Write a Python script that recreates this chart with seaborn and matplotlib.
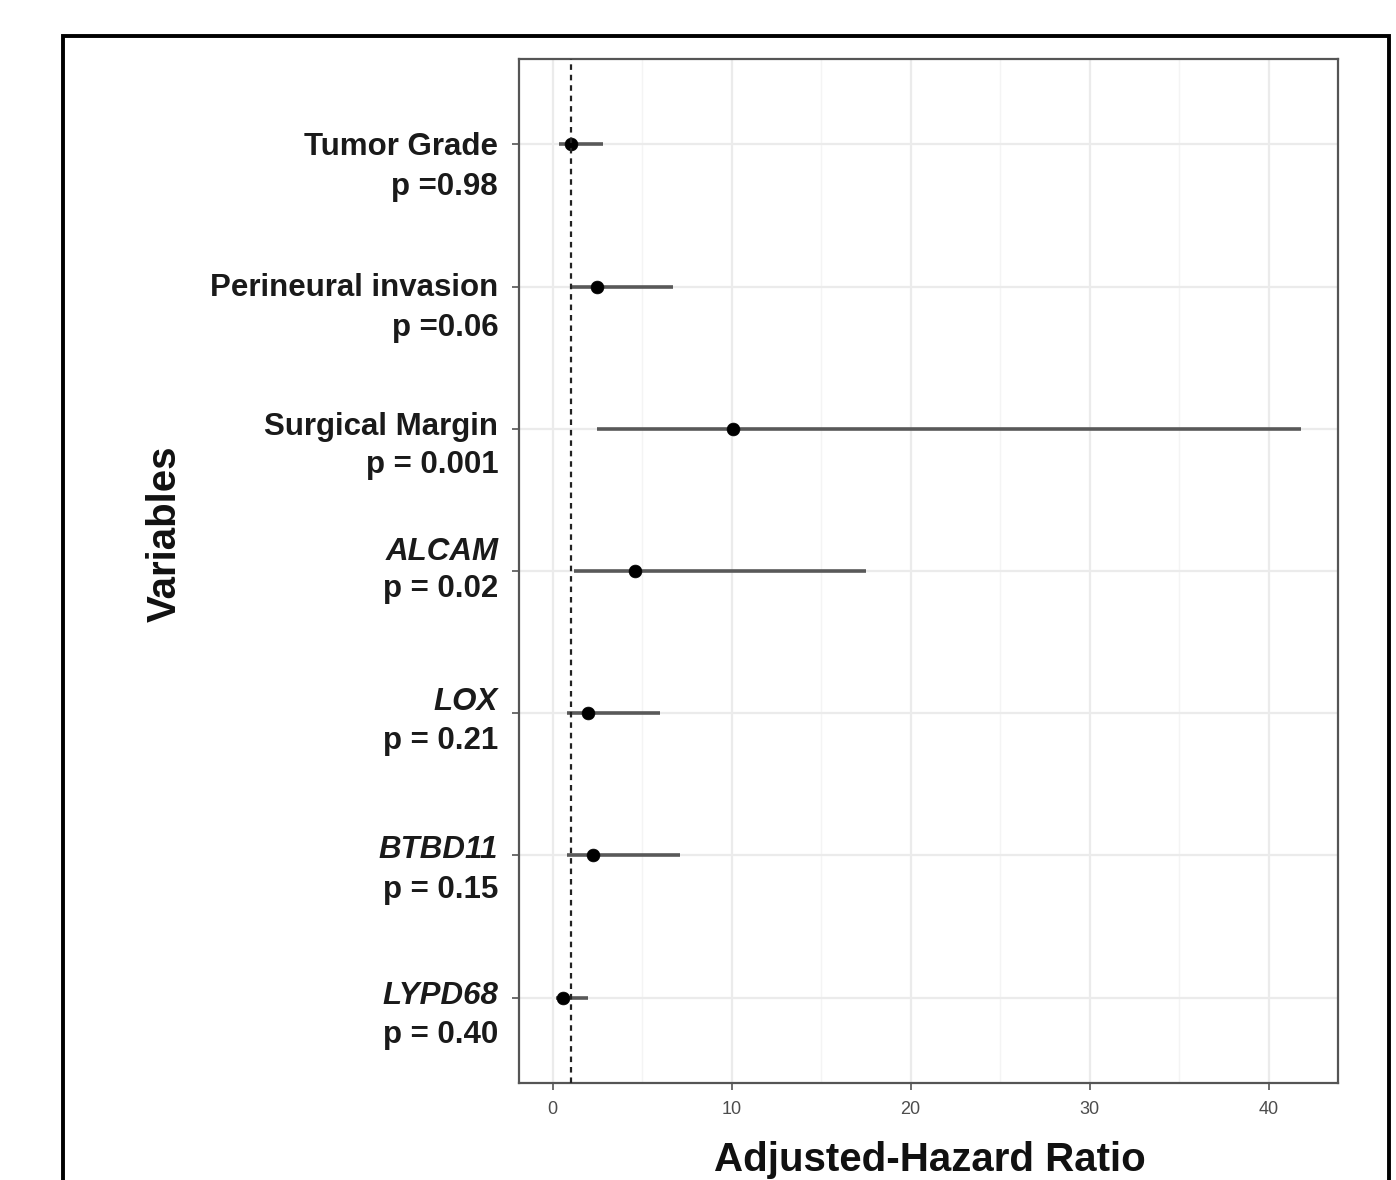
import numpy as np
import pandas as pd
import matplotlib.pyplot as plt
import matplotlib.patches as mpatches
import matplotlib.transforms as mtransforms
import seaborn as sns

# Data
variables = ["Tumor Grade", "Perineural invasion", "Surgical Margin",
             "ALCAM", "LOX", "BTBD11", "LYPD68"]
p_labels = ["p =0.98", "p =0.06", "p = 0.001", "p = 0.02",
            "p = 0.21", "p = 0.15", "p = 0.40"]
is_gene = [False, False, False, True, True, True, True]
hr = [1.0, 2.5, 10.1, 4.6, 2.0, 2.25, 0.6]
ci_low = [0.35, 0.95, 2.5, 1.2, 0.8, 0.8, 0.2]
ci_high = [2.8, 6.7, 41.8, 17.5, 6.0, 7.1, 1.95]
x_ticks = [0, 10, 20, 30, 40]

# label vertical nudges in points (first line, second line)
name_nudge = [-2, -1, 1, 14, 8, 4, 1]
p_nudge = [-31, -30, -26, -13, -20, -25, -27]

df = pd.DataFrame({"var": variables, "hr": hr, "lo": ci_low, "hi": ci_high})
df["pos"] = np.arange(len(df))

sns.set_theme(style="white")
plt.rcParams["font.family"] = ["Liberation Sans", "DejaVu Sans"]

fig = plt.figure(figsize=(13.96, 11.8), dpi=100)
ax = fig.add_axes([0.3718, 0.0822, 0.5867, 0.8678])

# grid (major + minor)
for x in np.arange(0, 45, 5):
    ax.axvline(x, color="#ebebeb" if x % 10 == 0 else "#f4f4f4",
               lw=1.6 if x % 10 == 0 else 1.0, zorder=0)
for y in df["pos"]:
    ax.axhline(y, color="#ebebeb", lw=1.6, zorder=0)

ax.hlines(df["pos"], df["lo"], df["hi"], color="#595959", lw=2.6, zorder=2)
sns.scatterplot(data=df, x="hr", y="pos", color="black", s=85,
                edgecolor="black", linewidth=0.5, ax=ax, zorder=3, legend=False)
ax.axvline(1, color="#222222", ls=(0, (2.5, 2.2)), lw=1.6, zorder=4)

rng = df["hi"].max() - df["lo"].min()
ax.set_xlim(df["lo"].min() - 0.05 * rng, df["hi"].max() + 0.05 * rng)
ax.set_ylim(len(df) - 0.4, -0.6)

ax.set_xlabel("")
ax.set_ylabel("")
ax.set_xticks(x_ticks)
ax.set_xticklabels([str(t) for t in x_ticks], fontsize=13, color="#4d4d4d")
ax.set_yticks(df["pos"])
ax.set_yticklabels([""] * len(df))
ax.tick_params(axis="both", which="both", length=5, width=1.2, color="#555555",
               left=True, bottom=True)
ax.tick_params(axis="x", pad=8)

for s in ax.spines.values():
    s.set_color("#555555")
    s.set_linewidth(1.6)

# two-line y labels with italic gene names
trans = mtransforms.blended_transform_factory(ax.transAxes, ax.transData)
for i, row in df.iterrows():
    t1 = mtransforms.offset_copy(trans, fig=fig, x=-15, y=name_nudge[i], units="points")
    t2 = mtransforms.offset_copy(trans, fig=fig, x=-15, y=p_nudge[i], units="points")
    ax.text(0, row["pos"], row["var"], transform=t1, ha="right", va="center",
            fontsize=22.5, fontweight="bold", color="#1a1a1a",
            fontstyle="italic" if is_gene[i] else "normal")
    ax.text(0, row["pos"], p_labels[i], transform=t2, ha="right", va="center",
            fontsize=22.5, fontweight="bold", color="#1a1a1a")

fig.text(0.118, 0.548, "Variables", rotation=90, ha="center", va="center",
         fontsize=29, fontweight="bold", color="#111111")
fig.text(0.666, 0.017, "Adjusted-Hazard Ratio", ha="center", va="center",
         fontsize=29, fontweight="bold", color="#111111")

# outer frame of the screenshot
frame = mpatches.Rectangle((0.0451, -0.05), 0.9499, 1.0195, transform=fig.transFigure,
                           fill=False, edgecolor="black", lw=2.8, clip_on=False)
fig.patches.append(frame)

fig.savefig("out.png", dpi=100)
